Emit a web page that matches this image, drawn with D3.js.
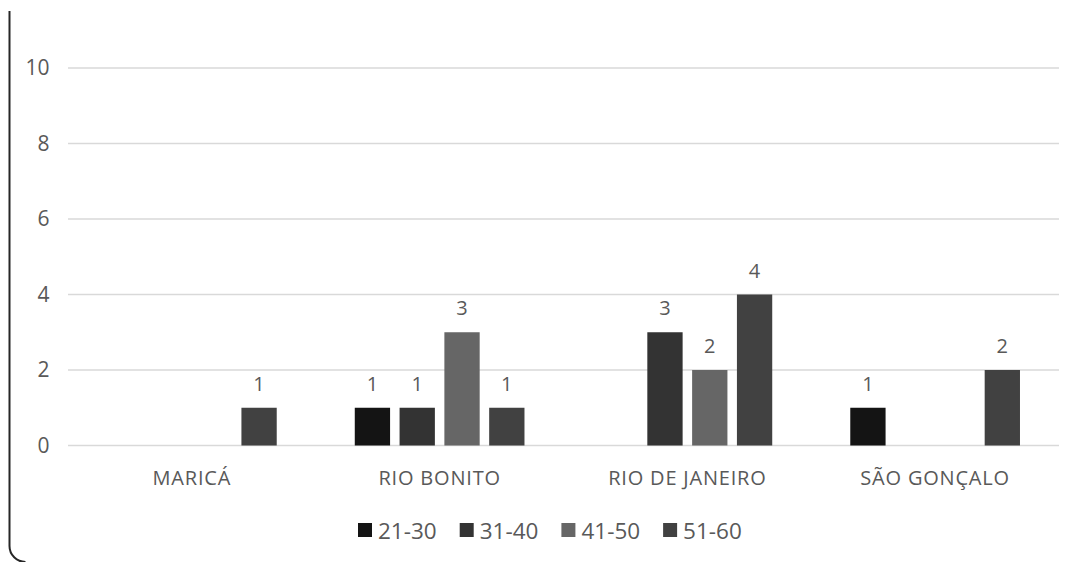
<!DOCTYPE html>
<html>
<head>
<meta charset="utf-8">
<script src="https://cdn.jsdelivr.net/npm/d3@7"></script>
<style>
  html, body { margin: 0; padding: 0; background: #fff; }
  svg { display: block; }
  text { font-family: "Open Sans", sans-serif; fill: #595959; }
</style>
</head>
<body>
<svg id="chart" width="1074" height="562"></svg>
<script>
const categories = ["MARICÁ", "RIO BONITO", "RIO DE JANEIRO", "SÃO GONÇALO"];
const seriesNames = ["21-30", "31-40", "41-50", "51-60"];
const s2130 = [null, 1, null, 1];
const s3140 = [null, 1, 3, null];
const s4150 = [null, 3, 2, null];
const s5160 = [1, 1, 4, 2];
const seriesColors = ["#141414", "#333333", "#666666", "#414141"];
const yTicks = [0, 2, 4, 6, 8, 10];

const seriesValues = [s2130, s3140, s4150, s5160];

const svg = d3.select("#chart");
const plot = { left: 68, right: 1059, top: 68, bottom: 445.5 };

// rounded frame (left part visible)
svg.append("path")
  .attr("d", `M9.5,11 L9.5,546 A16,16 0 0 0 25.5,562`)
  .attr("fill", "none")
  .attr("stroke", "#262626")
  .attr("stroke-width", 2);

const x0 = d3.scaleBand().domain(categories).range([plot.left, plot.right]).padding(0);
const x1 = d3.scaleBand().domain(seriesNames).range([0, x0.bandwidth()])
  .paddingInner(0.212).paddingOuter(0.871);
const y = d3.scaleLinear().domain([0, 10]).range([plot.bottom, plot.top]);

// gridlines
svg.append("g").selectAll("line").data(yTicks).join("line")
  .attr("x1", plot.left).attr("x2", plot.right)
  .attr("y1", d => y(d)).attr("y2", d => y(d))
  .attr("stroke", "#d9d9d9").attr("stroke-width", 1.3);

// y axis labels
const yAxis = d3.axisLeft(y).tickValues(yTicks).tickSize(0).tickPadding(0);
const yg = svg.append("g").attr("transform", `translate(49.5,0)`).call(yAxis);
yg.select(".domain").remove();
yg.selectAll("text").attr("font-size", 21).style("font-family", "'Open Sans', sans-serif").attr("fill", "#595959");

// x axis labels
const xAxis = d3.axisBottom(x0).tickSize(0).tickPadding(0);
const xg = svg.append("g").attr("transform", `translate(0,471)`).call(xAxis);
xg.select(".domain").remove();
xg.selectAll("text").attr("font-size", 20).attr("dy", "0.71em").attr("letter-spacing", 0.8)
  .style("font-family", "'Open Sans', sans-serif").attr("fill", "#595959");

// bars
const data = [];
categories.forEach((c, ci) => {
  seriesNames.forEach((s, si) => {
    const v = seriesValues[si][ci];
    if (v !== null) data.push({ c, s, v, si });
  });
});

svg.append("g").selectAll("rect").data(data).join("rect")
  .attr("x", d => x0(d.c) + x1(d.s))
  .attr("y", d => y(d.v))
  .attr("width", x1.bandwidth())
  .attr("height", d => y(0) - y(d.v))
  .attr("fill", d => seriesColors[d.si]);

svg.append("g").selectAll("text").data(data).join("text")
  .attr("x", d => x0(d.c) + x1(d.s) + x1.bandwidth() / 2)
  .attr("y", d => y(d.v) - 17)
  .attr("text-anchor", "middle")
  .attr("font-size", 20)
  .text(d => d.v);

// legend
const legend = svg.append("g");
let lx = 358;
seriesNames.forEach((s, i) => {
  const g = legend.append("g").attr("transform", `translate(${lx},523)`);
  g.append("rect").attr("width", 14).attr("height", 14).attr("fill", seriesColors[i]);
  const t = g.append("text").attr("x", 20).attr("y", 15.5).attr("font-size", 22.5).text(s);
  const w = t.node().getComputedTextLength();
  lx += 20 + w + 23;
});
</script>
</body>
</html>
